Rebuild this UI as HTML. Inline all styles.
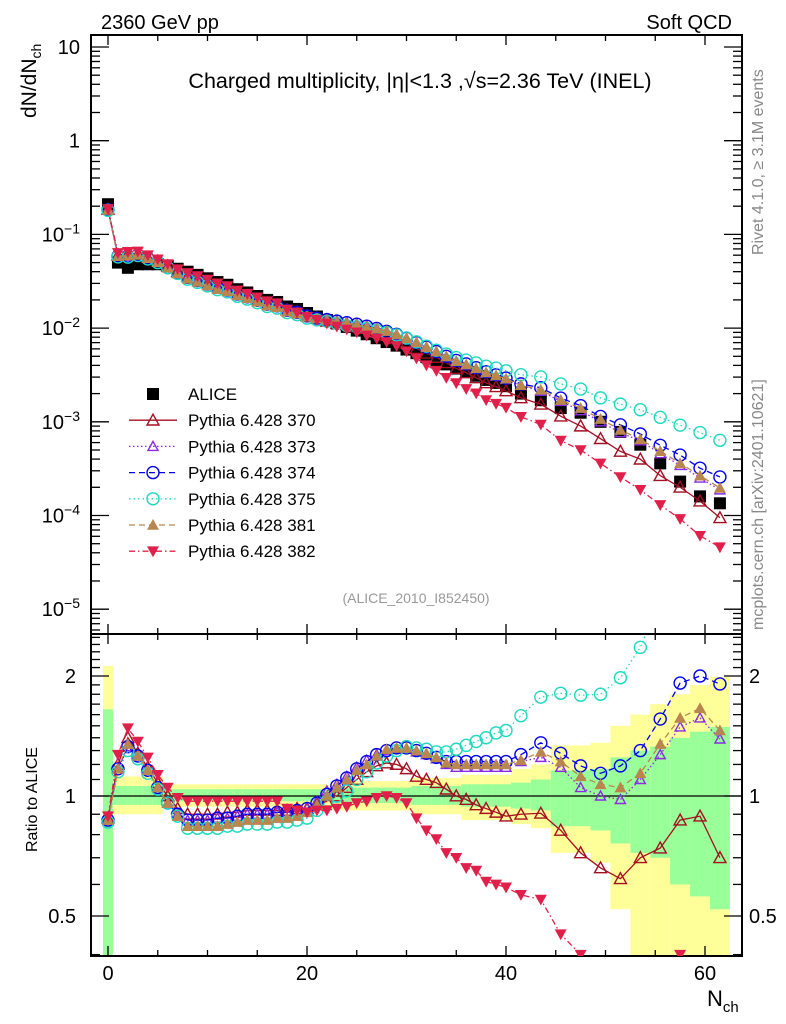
<!DOCTYPE html>
<html><head><meta charset="utf-8">
<style>
html,body{margin:0;padding:0;background:#fff;}
svg{display:block;font-family:"Liberation Sans",sans-serif;}
</style></head>
<body>
<svg id="chart" width="786" height="1024" viewBox="0 0 786 1024" xmlns="http://www.w3.org/2000/svg">
<text x="101" y="29" font-size="20">2360 GeV pp</text>
<text x="732" y="29" font-size="20" text-anchor="end">Soft QCD</text>
<text x="420" y="88" font-size="21.5" text-anchor="middle">Charged multiplicity, |η|&lt;1.3 ,√s=2.36 TeV (INEL)</text>
<text transform="translate(36,118) rotate(-90)" font-size="21">dN/dN<tspan font-size="14" dy="5">ch</tspan></text>
<text transform="translate(37,852) rotate(-90)" font-size="16">Ratio to ALICE</text>
<text x="707" y="1006" font-size="22">N<tspan font-size="15" dy="6">ch</tspan></text>
<text transform="translate(763,255) rotate(-90)" font-size="16" fill="#888">Rivet 4.1.0, ≥ 3.1M events</text>
<text transform="translate(763,630) rotate(-90)" font-size="16" fill="#888">mcplots.cern.ch [arXiv:2401.10621]</text>
<text x="416" y="603" font-size="14" fill="#999" text-anchor="middle">(ALICE_2010_I852450)</text>
<g id="bands"></g>
<g id="axes"></g>
<g id="series"></g>
<g id="legend"></g>
</svg>
<script>
const nch = [0,1,2,3,4,5,6,7,8,9,10,11,12,13,14,15,16,17,18,19,20,21,22,23,24,25,26,27,28,29,30,31,32,33,34,35,36,37,38,39,40,41.5,43.5,45.5,47.5,49.5,51.5,53.5,55.5,57.5,59.5,61.5];
const binLo = [-0.5,0.5,1.5,2.5,3.5,4.5,5.5,6.5,7.5,8.5,9.5,10.5,11.5,12.5,13.5,14.5,15.5,16.5,17.5,18.5,19.5,20.5,21.5,22.5,23.5,24.5,25.5,26.5,27.5,28.5,29.5,30.5,31.5,32.5,33.5,34.5,35.5,36.5,37.5,38.5,39.5,40.5,42.5,44.5,46.5,48.5,50.5,52.5,54.5,56.5,58.5,60.5];
const binHi = [0.5,1.5,2.5,3.5,4.5,5.5,6.5,7.5,8.5,9.5,10.5,11.5,12.5,13.5,14.5,15.5,16.5,17.5,18.5,19.5,20.5,21.5,22.5,23.5,24.5,25.5,26.5,27.5,28.5,29.5,30.5,31.5,32.5,33.5,34.5,35.5,36.5,37.5,38.5,39.5,40.5,42.5,44.5,46.5,48.5,50.5,52.5,54.5,56.5,58.5,60.5,62.5];
const alice = [0.21,0.050,0.044,0.048,0.048,0.048,0.046,0.043,0.040,0.037,0.034,0.031,0.029,0.026,0.024,0.022,0.020,0.019,0.017,0.016,0.0145,0.0133,0.0122,0.0112,0.0103,0.0094,0.0086,0.0078,0.0071,0.0065,0.0059,0.0054,0.0049,0.0045,0.0041,0.0037,0.0034,0.0031,0.0028,0.0026,0.0024,0.0020,0.0017,0.0014,0.00125,0.0010,0.00078,0.00057,0.00036,0.00023,0.00016,0.000135];
const r370 = [0.88,1.2,1.4,1.28,1.18,1.08,1.0,0.93,0.9,0.9,0.9,0.9,0.91,0.91,0.92,0.92,0.92,0.92,0.92,0.93,0.93,0.95,0.97,1.0,1.05,1.1,1.15,1.19,1.21,1.2,1.17,1.12,1.1,1.08,1.04,1.0,0.98,0.95,0.93,0.91,0.89,0.9,0.905,0.82,0.72,0.66,0.62,0.70,0.74,0.87,0.89,0.70];
const r373 = [0.87,1.17,1.33,1.26,1.16,1.05,0.96,0.9,0.87,0.87,0.87,0.88,0.88,0.89,0.9,0.9,0.9,0.91,0.91,0.92,0.93,0.97,1.03,1.07,1.12,1.18,1.23,1.27,1.3,1.31,1.31,1.29,1.27,1.24,1.2,1.18,1.18,1.18,1.18,1.18,1.18,1.22,1.25,1.18,1.05,1.0,0.98,1.1,1.27,1.49,1.57,1.39];
const r374 = [0.87,1.17,1.33,1.26,1.16,1.05,0.96,0.9,0.87,0.87,0.87,0.88,0.88,0.89,0.9,0.9,0.9,0.91,0.91,0.92,0.93,0.96,1.01,1.06,1.11,1.17,1.22,1.27,1.3,1.32,1.32,1.3,1.28,1.25,1.22,1.22,1.22,1.22,1.22,1.22,1.22,1.27,1.36,1.28,1.19,1.14,1.19,1.3,1.56,1.92,2.0,1.91];
const r375 = [0.86,1.15,1.3,1.24,1.14,1.04,0.96,0.89,0.83,0.83,0.83,0.83,0.84,0.84,0.85,0.85,0.85,0.86,0.86,0.87,0.88,0.92,0.97,1.0,1.03,1.1,1.15,1.21,1.26,1.3,1.33,1.32,1.31,1.29,1.29,1.31,1.34,1.37,1.4,1.44,1.46,1.59,1.77,1.81,1.79,1.8,1.98,2.36,3.1,4.0,4.8,4.7];
const r381 = [0.87,1.17,1.35,1.26,1.16,1.05,0.96,0.89,0.84,0.84,0.84,0.84,0.85,0.86,0.87,0.87,0.87,0.88,0.88,0.89,0.91,0.95,1.0,1.05,1.1,1.16,1.2,1.26,1.31,1.32,1.32,1.3,1.28,1.25,1.21,1.2,1.2,1.2,1.2,1.2,1.2,1.23,1.29,1.22,1.12,1.07,1.05,1.14,1.35,1.57,1.66,1.46];
const r382 = [0.89,1.27,1.48,1.37,1.25,1.13,1.05,0.99,0.97,0.97,0.97,0.97,0.97,0.97,0.97,0.97,0.97,0.97,0.93,0.92,0.91,0.92,0.92,0.93,0.94,0.96,0.97,0.99,1.0,0.99,0.96,0.88,0.82,0.78,0.72,0.7,0.66,0.65,0.61,0.6,0.59,0.565,0.55,0.45,0.40,0.36,0.33,0.33,0.36,0.40,0.38,0.34];
const totLo = [0.3,0.9,0.9,0.9,0.9,0.9,0.94,0.94,0.94,0.94,0.94,0.94,0.94,0.94,0.94,0.94,0.94,0.94,0.94,0.94,0.94,0.94,0.94,0.92,0.92,0.92,0.92,0.92,0.92,0.92,0.92,0.9,0.9,0.9,0.9,0.9,0.87,0.87,0.87,0.87,0.87,0.85,0.83,0.72,0.72,0.68,0.52,0.35,0.3,0.3,0.3,0.3];
const totHi = [2.12,1.12,1.12,1.12,1.12,1.12,1.07,1.07,1.07,1.07,1.07,1.07,1.07,1.07,1.07,1.07,1.07,1.07,1.07,1.07,1.07,1.07,1.07,1.09,1.09,1.09,1.09,1.09,1.09,1.09,1.09,1.11,1.11,1.11,1.11,1.11,1.13,1.13,1.13,1.13,1.13,1.17,1.2,1.34,1.34,1.36,1.5,1.6,1.7,1.8,1.9,1.99];
const statLo = [0.38,0.95,0.95,0.95,0.95,0.95,0.97,0.97,0.97,0.97,0.97,0.97,0.97,0.97,0.97,0.97,0.97,0.97,0.97,0.97,0.97,0.97,0.97,0.96,0.96,0.96,0.96,0.96,0.96,0.96,0.96,0.95,0.95,0.95,0.95,0.95,0.94,0.94,0.94,0.94,0.94,0.93,0.92,0.84,0.84,0.82,0.76,0.72,0.7,0.6,0.56,0.52];
const statHi = [1.65,1.06,1.06,1.06,1.06,1.06,1.04,1.04,1.04,1.04,1.04,1.04,1.04,1.04,1.04,1.04,1.04,1.04,1.04,1.04,1.04,1.04,1.04,1.05,1.05,1.05,1.05,1.05,1.05,1.05,1.05,1.06,1.06,1.06,1.06,1.06,1.07,1.07,1.07,1.07,1.07,1.08,1.1,1.16,1.16,1.17,1.25,1.3,1.33,1.4,1.45,1.49];
const xTicks = [0,20,40,60];
const mainTickExp = [1,0,-1,-2,-3,-4,-5];
const ratioTicks = [2,1,0.5];

const NS="http://www.w3.org/2000/svg";
const L=91,R=742,MT=35,MB=634,RB=956;
const X=n=>108+9.95*n;
const YM=v=>47+(1-Math.log10(v))*93.7;
const YR=r=>796-398.6*Math.log10(r);
const RMIN=0.397,RMAX=2.55;
function mk(tag,at,parent){const e=document.createElementNS(NS,tag);for(const k in at)e.setAttribute(k,at[k]);parent.appendChild(e);return e;}
const bands=document.getElementById('bands'),axes=document.getElementById('axes'),ser=document.getElementById('series'),leg=document.getElementById('legend');
const clipR=v=>Math.min(RMAX,Math.max(RMIN,v));

for(let i=0;i<nch.length;i++){
  const x0=Math.max(L,X(binLo[i])),x1=X(binHi[i]);
  const y=mk('rect',{x:x0,y:YR(clipR(totHi[i])),width:x1-x0,height:YR(clipR(totLo[i]))-YR(clipR(totHi[i])),fill:'#ffff99'},bands);
  
  
  const g=mk('rect',{x:x0,y:YR(clipR(statHi[i])),width:x1-x0,height:YR(clipR(statLo[i]))-YR(clipR(statHi[i])),fill:'#99ff99'},bands);
  
  
}
const ul=mk('line',{x1:L,x2:R,y1:YR(1),y2:YR(1),stroke:'#000','stroke-width':1.2},axes);



const f1=mk('rect',{x:L,y:MT,width:R-L,height:MB-MT,fill:'none',stroke:'#000','stroke-width':2},axes);


const f2=mk('rect',{x:L,y:MB,width:R-L,height:RB-MB,fill:'none',stroke:'#000','stroke-width':2},axes);



for(let n=0;n<=60;n+=5){
  const big=n%20===0, len=big?10:6;
  for(const [yb,dir] of [[MT,1],[MB,-1],[MB,1],[RB,-1]]){
    mk('line',{x1:X(n),x2:X(n),y1:yb,y2:yb+dir*len,stroke:'#000','stroke-width':1.3},axes);
  }
}
xTicks.forEach(n=>{
  const t=mk('text',{x:X(n),y:980,'font-size':20,'text-anchor':'middle'},axes);
  
  
  t.textContent=n;
});
for(let e=-6;e<=1;e++){
  for(let m=1;m<10;m++){
    const v=m*Math.pow(10,e),y=YM(v);
    if(y<MT||y>MB)continue;
    const len=m===1?18:9;
    mk('line',{x1:L,x2:L+len,y1:y,y2:y,stroke:'#000','stroke-width':1.3},axes);
    mk('line',{x1:R,x2:R-len,y1:y,y2:y,stroke:'#000','stroke-width':1.3},axes);
  }
}
mainTickExp.forEach(e=>{
  const t=mk('text',{x:80,y:YM(Math.pow(10,e))+7,'font-size':20,'text-anchor':'end'},axes);
  
  
  if(e===1)t.textContent='10';else if(e===0)t.textContent='1';
  else{t.textContent='10';const s=mk('tspan',{dy:-8,'font-size':14},t);s.textContent='−'+(-e);}
});
const rt=[0.4,0.5,0.6,0.7,0.8,0.9,1,1.1,1.2,1.3,1.4,1.5,1.6,1.7,1.8,1.9,2,2.1,2.2,2.3,2.4,2.5];
rt.forEach(r=>{
  const big=(r===0.5||r===1||r===2),len=big?18:9,y=YR(r);
  mk('line',{x1:L,x2:L+len,y1:y,y2:y,stroke:'#000','stroke-width':1.3},axes);
  mk('line',{x1:R,x2:R-len,y1:y,y2:y,stroke:'#000','stroke-width':1.3},axes);
});
ratioTicks.forEach(r=>{
  const t=mk('text',{x:76,y:YR(r)+7,'font-size':20,'text-anchor':'end'},axes);
  
  
  t.textContent=r;
  const t2=mk('text',{x:749,y:YR(r)+7,'font-size':20},axes);
  
  
  t2.textContent=r;
});

function marker(kind,x,y,col,p,s){
  s=s||6;
  if(kind==='sq')return mk('rect',{x:x-6,y:y-6,width:12,height:12,fill:'#000'},p);
  if(kind==='tri')return mk('polygon',{points:`${x},${y-s} ${x-s},${y+s*0.8} ${x+s},${y+s*0.8}`,fill:'none',stroke:col,'stroke-width':1.4},p);
  if(kind==='ftri')return mk('polygon',{points:`${x},${y-s} ${x-s},${y+s*0.8} ${x+s},${y+s*0.8}`,fill:col},p);
  if(kind==='dtri')return mk('polygon',{points:`${x},${y+s} ${x-s},${y-s*0.8} ${x+s},${y-s*0.8}`,fill:col},p);
  if(kind==='circ')return mk('circle',{cx:x,cy:y,r:s,fill:'none',stroke:col,'stroke-width':1.4},p);
}
const mcs=[
 {name:'Pythia 6.428 370',key:'370',r:r370,col:'#a50f21',kind:'tri',dash:''},
 {name:'Pythia 6.428 373',key:'373',r:r373,col:'#8a2be2',kind:'tri',dash:'1.5,2.5',s:5},
 {name:'Pythia 6.428 374',key:'374',r:r374,col:'#0000ee',kind:'circ',dash:'6,4'},
 {name:'Pythia 6.428 375',key:'375',r:r375,col:'#20d8c0',kind:'circ',dash:'1.5,3'},
 {name:'Pythia 6.428 381',key:'381',r:r381,col:'#b8864e',kind:'ftri',dash:'6,4'},
 {name:'Pythia 6.428 382',key:'382',r:r382,col:'#e0204a',kind:'dtri',dash:'6,3,1.5,3'}
];
const ag=mk('g',{},ser);


alice.forEach((v,i)=>marker('sq',X(nch[i]),YM(v),'#000',ag));
mcs.forEach(m=>{
  const gm=mk('g',{},ser);
  
  
  const pts=nch.map((n,i)=>X(n)+','+YM(alice[i]*m.r[i])).join(' ');
  mk('polyline',{points:pts,fill:'none',stroke:m.col,'stroke-width':1.3,'stroke-dasharray':m.dash},gm);
  nch.forEach((n,i)=>marker(m.kind,X(n),YM(alice[i]*m.r[i]),m.col,gm,m.s));
});
const cp=mk('clipPath',{id:'rclip'},ser);
mk('rect',{x:L,y:MB,width:R-L,height:RB-MB},cp);
mcs.forEach(m=>{
  const gr=mk('g',{'clip-path':'url(#rclip)'},ser);
  
  
  const pts=nch.map((n,i)=>X(n)+','+YR(m.r[i])).join(' ');
  mk('polyline',{points:pts,fill:'none',stroke:m.col,'stroke-width':1.3,'stroke-dasharray':m.dash},gr);
  nch.forEach((n,i)=>{if(m.r[i]>=RMIN-0.01&&m.r[i]<=RMAX)marker(m.kind,X(n),YR(m.r[i]),m.col,gr,m.s);});
});
const ly0=394,dy=26.2;
const la=mk('g',{},leg);


marker('sq',153,ly0,'#000',la);
const lat=mk('text',{x:188,y:ly0+6,'font-size':17},la);lat.textContent='ALICE';
mcs.forEach((m,k)=>{
  const y=ly0+dy*(k+1);
  const g=mk('g',{},leg);
  
  
  mk('line',{x1:129,x2:177,y1:y,y2:y,stroke:m.col,'stroke-width':1.3,'stroke-dasharray':m.dash},g);
  marker(m.kind,153,y,m.col,g,m.s);
  const t=mk('text',{x:188,y:y+6,'font-size':17},g);t.textContent=m.name;
});
</script>
</body></html>
